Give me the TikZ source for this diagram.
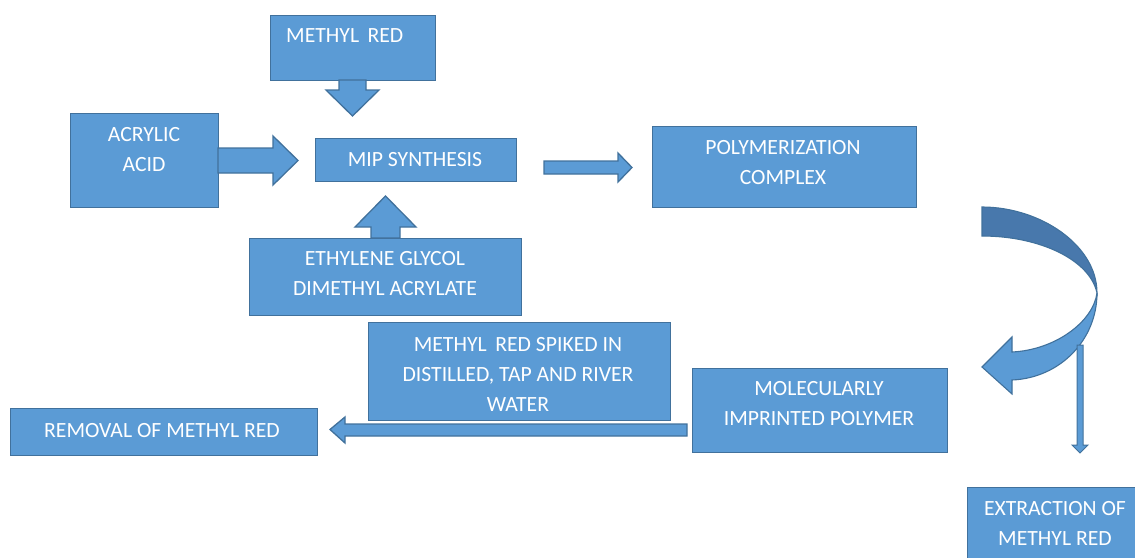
\documentclass[tikz,border=0pt]{standalone}
\usepackage{fontspec}
\setmainfont{Carlito}
\definecolor{fillb}{HTML}{5B9BD5}
\definecolor{edgeb}{HTML}{41719C}
\definecolor{darkb}{HTML}{4878AC}
\begin{document}
\begin{tikzpicture}[x=1pt,y=-1pt,
  box/.style={draw=edgeb, fill=fillb, line width=1.3pt, inner sep=0pt, rectangle, anchor=north west},
  txt/.style={text=white, font=\fontsize{21.7}{30}\selectfont, align=center, inner sep=0pt},
  blockarrow/.style={draw=edgeb, fill=fillb, line width=1.3pt, line join=miter}]
\useasboundingbox (0,0) rectangle (1135,557);
% boxes
\node[box, minimum width=165pt, minimum height=65pt] (mr) at (270,15) {};
\node[box, minimum width=201pt, minimum height=43pt] (mip) at (315,138) {};
\node[box, minimum width=148pt, minimum height=94pt] (acr) at (70,113) {};
\node[box, minimum width=272pt, minimum height=77pt] (eth) at (249,238) {};
\node[box, minimum width=264pt, minimum height=81pt] (poly) at (652,126) {};
\node[box, minimum width=255pt, minimum height=84pt] (mol) at (692,368) {};
\node[box, minimum width=302pt, minimum height=98pt] (spk) at (368,322) {};
\node[box, minimum width=307pt, minimum height=47pt] (rem) at (10,408) {};
\node[box, minimum width=200pt, minimum height=100pt] (ext) at (967,487) {};
% texts
\node[txt, anchor=west] (tmr) at (286,36) {METHYL\, RED};
\node[txt] (tacr) at (144,150) {ACRYLIC\\ACID};
\node[txt] (tmip) at (415,160) {MIP SYNTHESIS};
\node[txt] (teth) at (385,274) {ETHYLENE GLYCOL\\DIMETHYL ACRYLATE};
\node[txt] (tpoly) at (783,163) {POLYMERIZATION\\COMPLEX};
\node[txt] (tmol) at (819,404) {MOLECULARLY\\IMPRINTED POLYMER};
\node[txt] (tspk) at (518,374) {METHYL\, RED SPIKED IN\\DISTILLED, TAP AND RIVER\\WATER};
\node[txt] (trem) at (162,431) {REMOVAL OF METHYL RED};
\node[txt] (text) at (1055,523) {EXTRACTION OF\\METHYL RED};
% block arrows
\draw[blockarrow] (339,80) -- (366,80) -- (366,90) -- (379,90) -- (352.5,116) -- (326,90) -- (339,90) -- cycle;
\draw[blockarrow] (218,148) -- (273,148) -- (273,136) -- (298,160.5) -- (273,185) -- (273,173) -- (218,173) -- cycle;
\draw[blockarrow] (371,238) -- (371,227) -- (355,227) -- (385.5,196) -- (416,227) -- (400,227) -- (400,238) -- cycle;
\draw[blockarrow] (544,161) -- (618,161) -- (618,153) -- (632,167.5) -- (618,182) -- (618,174) -- (544,174) -- cycle;
\draw[blockarrow] (687,424) -- (345,424) -- (345,417) -- (330,429.5) -- (345,443) -- (345,436) -- (687,436) -- cycle;
% curved arrow
\draw[draw=edgeb, fill=darkb, line width=1.1pt] (982,207) .. controls (1040,207) and (1097,245) .. (1097,293)
   .. controls (1090,260) and (1040,236) .. (982,236) -- cycle;
\draw[blockarrow, line width=1.1pt] (1097,293) .. controls (1097,340) and (1060,378) .. (1012,380) -- (1012,394) -- (982,367) -- (1012,337) -- (1012,352)
   .. controls (1055,350) and (1093,322) .. (1097,293) -- cycle;
% thin arrow
\draw[blockarrow, line width=1pt] (1077,345) -- (1083,345) -- (1083,445) -- (1088,445) -- (1080,453) -- (1072,445) -- (1077,445) -- cycle;
\end{tikzpicture}
\end{document}
